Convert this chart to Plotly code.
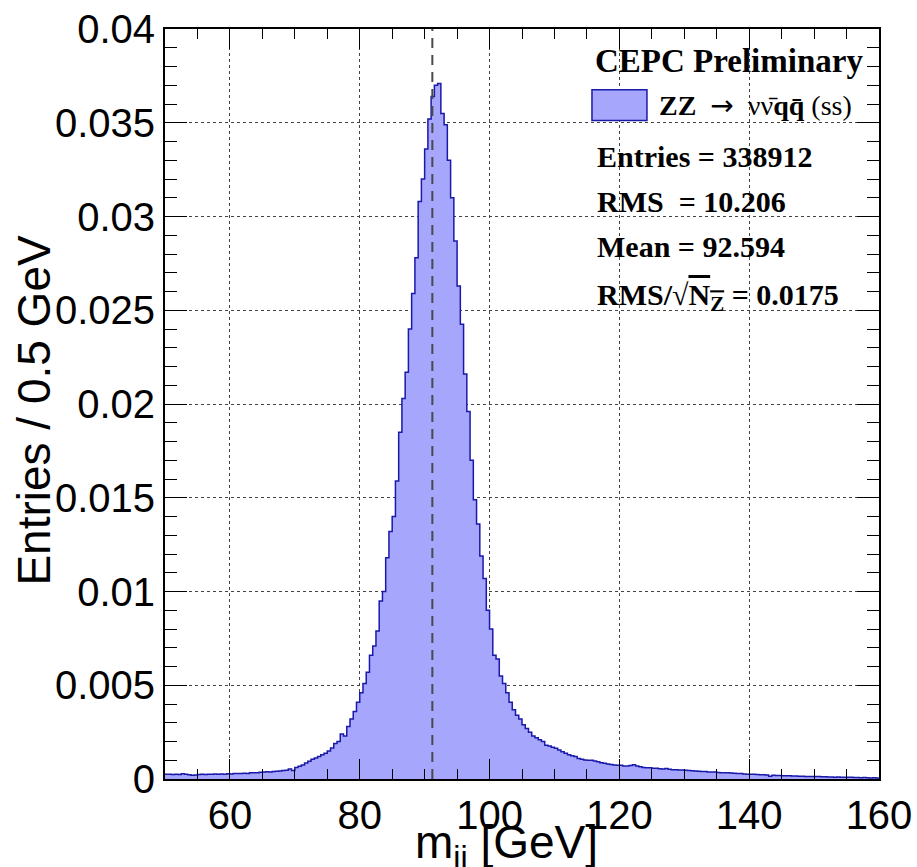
import numpy as np
import plotly.graph_objects as go

# m_jj histogram, 0.5 GeV bins from 50 to 160 GeV (normalised entries)
BIN_LOW = 50.0
BIN_WIDTH = 0.5

# 50 - 80 GeV
tail_low = [
    0.00026, 0.00025, 0.00024, 0.00025, 0.00024, 0.00028, 0.00026, 0.00023, 0.00020, 0.00021,
    0.00024, 0.00025, 0.00024, 0.00026, 0.00025, 0.00027, 0.00026, 0.00027, 0.00026, 0.00028,
    0.00027, 0.00030, 0.00029, 0.00030, 0.00031, 0.00029, 0.00033, 0.00034, 0.00034, 0.00036,
    0.00037, 0.00039, 0.00038, 0.00040, 0.00041, 0.00043, 0.00045, 0.00047, 0.00054, 0.00046,
    0.00062, 0.00068, 0.00075, 0.00085, 0.00095, 0.00105, 0.00112, 0.00120, 0.00130, 0.00138,
    0.00150, 0.00165, 0.00190, 0.00200, 0.00240, 0.00230, 0.00280, 0.00320, 0.00360, 0.00410,
]

# 80 - 110 GeV
core = [
    0.00460, 0.00510, 0.00570, 0.00660, 0.00710, 0.00790, 0.00950, 0.01000, 0.01180, 0.01320,
    0.01400, 0.01590, 0.01850, 0.02030, 0.02170, 0.02400, 0.02590, 0.02780, 0.03080, 0.03200,
    0.03360, 0.03520, 0.03640, 0.03700, 0.03710, 0.03550, 0.03490, 0.03300, 0.03100, 0.02870,
    0.02630, 0.02425, 0.02160, 0.01960, 0.01700, 0.01490, 0.01360, 0.01190, 0.01070, 0.00900,
    0.00800, 0.00660, 0.00640, 0.00550, 0.00510, 0.00460, 0.00410, 0.00370, 0.00340, 0.00320,
    0.00290, 0.00270, 0.00250, 0.00230, 0.00220, 0.00210, 0.00200, 0.00180, 0.00176, 0.00170,
]

# 110 - 160 GeV
tail_high = [
    0.00164, 0.00155, 0.00146, 0.00137, 0.00130, 0.00124, 0.00120, 0.00110, 0.00105, 0.00101,
    0.00100, 0.00100, 0.00096, 0.00092, 0.00087, 0.00084, 0.00080, 0.00078, 0.00075, 0.00073,
    0.00073, 0.00070, 0.00069, 0.00072, 0.00076, 0.00069, 0.00065, 0.00062, 0.00060, 0.00060,
    0.00057, 0.00057, 0.00055, 0.00054, 0.00056, 0.00052, 0.00050, 0.00050, 0.00048, 0.00048,
    0.00047, 0.00046, 0.00044, 0.00043, 0.00042, 0.00040, 0.00040, 0.00038, 0.00037, 0.00037,
    0.00035, 0.00034, 0.00034, 0.00033, 0.00032, 0.00031, 0.00030, 0.00029, 0.00027, 0.00026,
    0.00026, 0.00025, 0.00024, 0.00023, 0.00023, 0.00022, 0.00015, 0.00020, 0.00019, 0.00019,
    0.00018, 0.00018, 0.00017, 0.00016, 0.00016, 0.00015, 0.00015, 0.00014, 0.00014, 0.00013,
    0.00013, 0.00013, 0.00012, 0.00012, 0.00011, 0.00011, 0.00010, 0.00011, 0.00010, 0.00009,
    0.00010, 0.00009, 0.00008, 0.00008, 0.00007, 0.00008, 0.00007, 0.00006, 0.00007, 0.00006,
]

Z_MASS = 91.1876

X_TICKS = [60, 80, 100, 120, 140, 160]
Y_TICKS = [0, 0.005, 0.01, 0.015, 0.02, 0.025, 0.03, 0.035, 0.04]
Y_TICKTEXT = ["0", "0.005", "0.01", "0.015", "0.02", "0.025", "0.03", "0.035", "0.04"]

stats_lines = [
    "Entries = 338912",
    "RMS\u00a0\u00a0= 10.206",
    "Mean = 92.594",
    "RMS/\u221a<span style='text-decoration:overline'>N<sub>Z</sub></span> = 0.0175",
]

FILL = "rgb(166,166,252)"
EDGE = "rgb(25,25,170)"
SANS = "Liberation Sans, Arial, sans-serif"
SERIF = "Liberation Serif, Times New Roman, serif"

content = tail_low + core + tail_high
edges = BIN_LOW + BIN_WIDTH * np.arange(len(content) + 1)

fig = go.Figure()
fig.add_trace(go.Scatter(
    x=edges, y=content + [content[-1]],
    mode="lines", line=dict(shape="hv", color=EDGE, width=1.5),
    fill="tozeroy", fillcolor=FILL, showlegend=False, hoverinfo="skip",
))

fig.add_vline(x=Z_MASS, line=dict(color="#4a4a4a", width=2, dash="10px,7px"))

axis_common = dict(
    showline=True, linecolor="black", linewidth=2, mirror="ticks",
    ticks="inside", tickcolor="black", tickwidth=1,
    showgrid=True, gridcolor="#444444", gridwidth=1, griddash="dot",
    zeroline=False, tickfont=dict(family=SANS, size=40, color="black"),
)

fig.update_xaxes(
    range=[50, 160], tickvals=X_TICKS, ticklen=20,
    minor=dict(dtick=5, tick0=0, ticks="inside", ticklen=10, tickcolor="black", showgrid=False),
    **axis_common,
)
fig.update_yaxes(
    range=[0, 0.04], tickvals=Y_TICKS, ticktext=Y_TICKTEXT, ticklen=22,
    minor=dict(dtick=0.001, tick0=0, ticks="inside", ticklen=12, tickcolor="black", showgrid=False),
    **axis_common,
)

# legend sample box
fig.add_shape(type="rect", xref="paper", yref="paper", x0=0.598, x1=0.675, y0=0.878, y1=0.919,
              fillcolor=FILL, line=dict(color=EDGE, width=1.5))

fig.add_annotation(text="<b>CEPC Preliminary</b>", xref="paper", yref="paper", x=0.599, y=0.958,
                   xanchor="left", yanchor="middle", showarrow=False,
                   font=dict(family=SERIF, size=33, color="black"))
fig.add_annotation(
    text="<b>ZZ</b>\u00a0\u00a0<span style='font-family:DejaVu Sans'>\u2192</span>\u00a0\u00a0"
         "\u03bd\u03bd\u0304<b>qq\u0304</b> (ss)",
    xref="paper", yref="paper", x=0.689, y=0.898,
    xanchor="left", yanchor="middle", showarrow=False,
    font=dict(family=SERIF, size=28, color="black"))

for line, ypos in zip(stats_lines, [0.830, 0.770, 0.710, 0.643]):
    fig.add_annotation(text="<b>" + line + "</b>", xref="paper", yref="paper", x=0.602, y=ypos,
                       xanchor="left", yanchor="middle", showarrow=False,
                       font=dict(family=SERIF, size=30, color="black"))

# axis titles
fig.add_annotation(text="m<sub>jj</sub> [GeV]", xref="paper", yref="paper", x=0.478, y=-0.088,
                   xanchor="center", yanchor="middle", showarrow=False,
                   font=dict(family=SANS, size=46, color="black"))
fig.add_annotation(text="Entries / 0.5 GeV", xref="paper", yref="paper", x=-0.184, y=0.492,
                   textangle=-90, xanchor="center", yanchor="middle", showarrow=False,
                   font=dict(family=SANS, size=46, color="black"))

fig.update_layout(
    width=917, height=867,
    margin=dict(l=165, r=38, t=29, b=88, autoexpand=False),
    paper_bgcolor="white", plot_bgcolor="white",
    showlegend=False,
)

fig.write_html("out.html", config={"displayModeBar": False},
               post_script="document.body.style.margin = '0px';")
